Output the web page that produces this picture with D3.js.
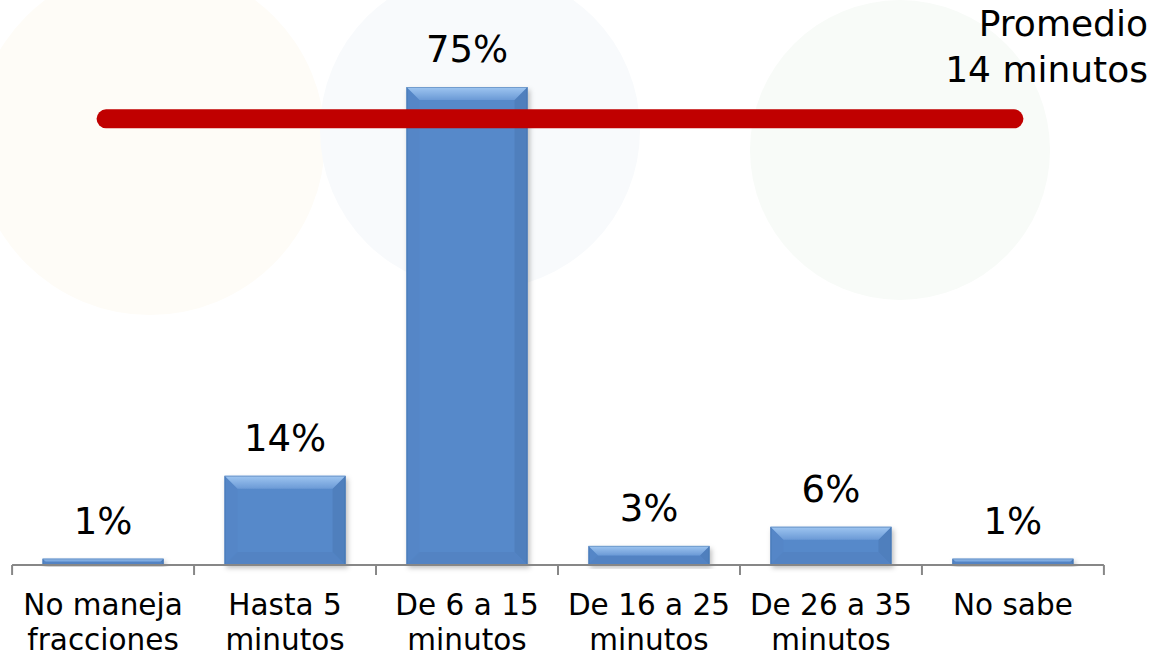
<!DOCTYPE html>
<html lang="es">
    <head>
        <meta charset="utf-8">
        <script src="https://d3js.org/d3.v7.min.js"></script>
        <style>
            body { margin: 0; background: #fff; }
            svg { display: block; font-family: "DejaVu Sans", Verdana, sans-serif; }
        </style>
        <title>Promedio minutos</title>
    </head>
    <body>
        <svg id="chart"></svg>
        <script>
            // ------------------------------------------------------------------
            // Data
            // ------------------------------------------------------------------
            const categories = [
                ["No maneja", "fracciones"],
                ["Hasta 5", "minutos"],
                ["De 6 a 15", "minutos"],
                ["De 16 a 25", "minutos"],
                ["De 26 a 35", "minutos"],
                ["No sabe"]
            ];
            const values = [1, 14, 75, 3, 6, 1];
            const valueLabels = ["1%", "14%", "75%", "3%", "6%", "1%"];
            const noteLines = ["Promedio", "14 minutos"];
            const refLevel = 70;   // height of the red "promedio" bar on the value scale

            const width = 1154, height = 659;
            const margin = { top: 87, right: 50, bottom: 94, left: 12 };

            const svg = d3.select("#chart")
                .attr("width", width)
                .attr("height", height);

            // very faint watermark in the background
            const wm = svg.append("g");
            wm.append("circle").attr("cx", 150).attr("cy", 140).attr("r", 175).attr("fill", "#fefcf7");
            wm.append("circle").attr("cx", 480).attr("cy", 130).attr("r", 160).attr("fill", "#f8fafc");
            wm.append("circle").attr("cx", 900).attr("cy", 150).attr("r", 150).attr("fill", "#f8fbf8");

            const x = d3.scaleBand()
                .domain(d3.range(categories.length))
                .range([margin.left, width - margin.right])
                .paddingInner(0.335)
                .paddingOuter(0.168);

            const y = d3.scaleLinear()
                .domain([0, 75])
                .range([height - margin.bottom, margin.top]);

            const defs = svg.append("defs");
            const topGrad = defs.append("linearGradient")
                .attr("id", "topGrad").attr("x1", 0).attr("y1", 0).attr("x2", 0).attr("y2", 1);
            topGrad.append("stop").attr("offset", "0%").attr("stop-color", "#9fc6f1");
            topGrad.append("stop").attr("offset", "100%").attr("stop-color", "#6b9ad6");

            const shadow = defs.append("filter").attr("id", "shadow")
                .attr("x", "-10%").attr("y", "-10%").attr("width", "125%").attr("height", "130%");
            shadow.append("feDropShadow")
                .attr("dx", 2).attr("dy", 3).attr("stdDeviation", 2.5)
                .attr("flood-color", "#000").attr("flood-opacity", 0.25);

            // ------------------------------------------------------------------
            // Bars with bevel
            // ------------------------------------------------------------------
            const bars = svg.append("g")
                .selectAll("g")
                .data(values)
                .join("g")
                .attr("filter", "url(#shadow)");

            bars.each(function (d, i) {
                const g = d3.select(this);
                const x0 = x(i), x1 = x(i) + x.bandwidth();
                const y0 = y(d), y1 = y(0);
                const w = x1 - x0, h = y1 - y0;
                const b = Math.min(13, h / 2, w / 2);
                const pts = a => a.map(p => p.join(",")).join(" ");

                g.append("rect")
                    .attr("x", x0).attr("y", y0)
                    .attr("width", w).attr("height", h)
                    .attr("fill", "#5689ca");
                // left face
                g.append("polygon")
                    .attr("points", pts([[x0, y0], [x0 + b, y0 + b], [x0 + b, y1 - b], [x0, y1]]))
                    .attr("fill", "#5486c7");
                // right face
                g.append("polygon")
                    .attr("points", pts([[x1, y0], [x1 - b, y0 + b], [x1 - b, y1 - b], [x1, y1]]))
                    .attr("fill", "#4f7fbd");
                // bottom face
                g.append("polygon")
                    .attr("points", pts([[x0, y1], [x0 + b, y1 - b], [x1 - b, y1 - b], [x1, y1]]))
                    .attr("fill", "#5283c3");
                // top face
                g.append("polygon")
                    .attr("points", pts([[x0, y0], [x0 + b, y0 + b], [x1 - b, y0 + b], [x1, y0]]))
                    .attr("fill", "url(#topGrad)");
                g.append("rect")
                    .attr("x", x0 + 0.5).attr("y", y0 + 0.5)
                    .attr("width", w - 1).attr("height", h - 1)
                    .attr("fill", "none")
                    .attr("stroke", "#3f6ca3").attr("stroke-opacity", 0.45);
            });

            // value labels
            svg.append("g")
                .selectAll("text")
                .data(values)
                .join("text")
                .attr("x", (d, i) => x(i) + x.bandwidth() / 2)
                .attr("y", d => y(d) - 25)
                .attr("text-anchor", "middle")
                .attr("font-size", 37)
                .attr("fill", "#000")
                .text((d, i) => valueLabels[i]);

            // ------------------------------------------------------------------
            // Category axis
            // ------------------------------------------------------------------
            const axis = svg.append("g");
            const edges = d3.range(categories.length).map(i => x(i) - x.step() * x.paddingInner() / 2);
            edges.push(x(categories.length - 1) + x.bandwidth() + x.step() * x.paddingInner() / 2);

            axis.append("line")
                .attr("x1", edges[0]).attr("x2", edges[edges.length - 1])
                .attr("y1", y(0)).attr("y2", y(0))
                .attr("stroke", "#878787").attr("stroke-width", 2);
            axis.selectAll(".tick")
                .data(edges)
                .join("line")
                .attr("class", "tick")
                .attr("x1", d => d).attr("x2", d => d)
                .attr("y1", y(0)).attr("y2", y(0) + 10)
                .attr("stroke", "#878787").attr("stroke-width", 2);

            const catText = axis.selectAll(".cat")
                .data(categories)
                .join("text")
                .attr("class", "cat")
                .attr("text-anchor", "middle")
                .attr("font-size", 29.5)
                .attr("fill", "#000");
            catText.selectAll("tspan")
                .data((d, i) => d.map(t => ({ t, i })))
                .join("tspan")
                .attr("x", d => x(d.i) + x.bandwidth() / 2)
                .attr("y", (d, j) => y(0) + 50 + j * 35)
                .text(d => d.t);

            // ------------------------------------------------------------------
            // Average bar and note
            // ------------------------------------------------------------------
            svg.append("line")
                .attr("x1", x(0) + x.bandwidth() / 2 + 3)
                .attr("x2", x(categories.length - 1) + x.bandwidth() / 2 + 1)
                .attr("y1", y(refLevel)).attr("y2", y(refLevel))
                .attr("stroke", "#c00000")
                .attr("stroke-width", 19)
                .attr("stroke-linecap", "round");

            svg.append("text")
                .attr("text-anchor", "end")
                .attr("font-size", 36)
                .attr("fill", "#000")
                .selectAll("tspan")
                .data(noteLines)
                .join("tspan")
                .attr("x", width - 6)
                .attr("y", (d, i) => 36 + i * 46)
                .text(d => d);
        </script>
    </body>
</html>
